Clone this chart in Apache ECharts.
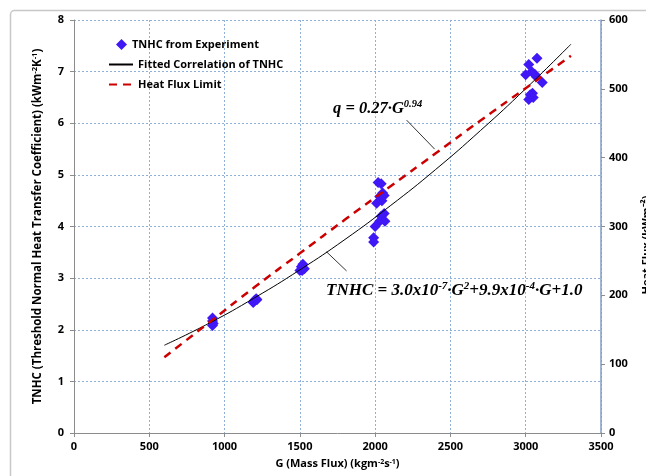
<!DOCTYPE html>
<html><head><meta charset="utf-8">
<script src="https://cdn.jsdelivr.net/npm/echarts@6/dist/echarts.min.js"></script>
<style>html,body{margin:0;padding:0;background:#fff}#c{width:646px;height:476px}</style>
</head><body><div id="c"></div>
<script>
// Experimental TNHC points [G, TNHC]
const expG = [920,920,925,920, 1190,1200,1210,1215,1195, 1500,1510,1520,1530,1515,
  2020,2040,2050,2030,2060,2010,2045,2060,2040,2030,2065,2000,1990,1990,
  3020,3075,3000,3040,3060,3070,3110,3030,3020,3050,3045];
const expTNHC = [2.23,2.17,2.12,2.08, 2.53,2.57,2.60,2.58,2.55, 3.15,3.22,3.27,3.18,3.15,
  4.85,4.83,4.65,4.58,4.60,4.45,4.50,4.25,4.20,4.10,4.10,4.00,3.78,3.70,
  7.14,7.26,6.94,7.00,6.95,6.90,6.79,6.55,6.46,6.50,6.58];
// Fitted correlation curve
const fitG = [600,900,1200,1500,1800,2100,2400,2700,3000,3300];
const fitTNHC = [1.70,2.13,2.62,3.16,3.75,4.40,5.10,5.86,6.67,7.53];
// Heat flux limit (right axis, kW/m2)
const limG = [600,900,1200,1500,1800,2100,2400,2700,3000,3300];
const limQ = [110,161,212,261,310,358,406,454,501,548];
// Axis ticks
const xTicks = [0,500,1000,1500,2000,2500,3000,3500];
const yLeftTicks = [0,1,2,3,4,5,6,7,8];
const yRightTicks = [0,100,200,300,400,500,600];
// Annotation arrows [from, to] in data coords
const qArrow = [[2209,6.06],[2395,5.50]];
const tArrow = [[1810,3.14],[1677,3.51]];

const F = 'Open Sans';
const gridLine = {show:true, lineStyle:{color:'#8fb0d8', type:[2,2], width:1}};
const chart = echarts.init(document.getElementById('c'), null, {renderer:'canvas'});
const arrowPath = 'path://M0,0 L6,14 M0,0 L-6,14';
const legText = {fontFamily:F, fontWeight:'bold', fontSize:11, color:'#000'};
chart.setOption({
  animation:false,
  backgroundColor:'#fff',
  grid:{left:74, right:45, top:20, bottom:43, show:false},
  legend:[{
    orient:'vertical', left:111, top:34, itemWidth:11, itemHeight:11,
    textStyle:legText, data:[{name:'TNHC from Experiment', icon:'diamond'}]
  },{
    orient:'vertical', left:103, top:54, itemGap:9, itemWidth:24, itemHeight:11,
    textStyle:legText,
    data:[{name:'Fitted Correlation of TNHC', itemStyle:{opacity:0}},
          {name:'Heat Flux Limit', itemStyle:{opacity:0}}]
  }],
  xAxis:{
    type:'value', min:xTicks[0], max:xTicks[xTicks.length-1], interval:500,
    name:'{b|G (Mass Flux) (kgm}{s|-2}{b|s}{s|-1}{b|)}', nameLocation:'middle', nameGap:25,
    nameTextStyle:{rich:{b:{fontFamily:F,fontWeight:'bold',fontSize:11,color:'#000'},
      s:{fontFamily:F,fontWeight:'bold',fontSize:7,color:'#000',padding:[0,0,5,0]}}},
    axisLine:{show:true, lineStyle:{color:'#8c8c8c'}},
    axisTick:{show:true, length:4, lineStyle:{color:'#8c8c8c'}},
    axisLabel:{fontFamily:F, fontWeight:'bold', fontSize:11, color:'#000', margin:8, formatter:v=>String(v)},
    splitLine:gridLine
  },
  yAxis:[{
    type:'value', min:yLeftTicks[0], max:yLeftTicks[yLeftTicks.length-1], interval:1,
    name:'{b|TNHC (Threshold Normal Heat Transfer Coefficient) (kWm}{s|-2}{b|K}{s|-1}{b|)}',
    nameLocation:'middle', nameGap:30, nameRotate:90,
    nameTextStyle:{rich:{b:{fontFamily:F,fontWeight:'bold',fontSize:11.5,color:'#000'},
      s:{fontFamily:F,fontWeight:'bold',fontSize:7.5,color:'#000',padding:[0,0,5,0]}}},
    axisLine:{show:true, lineStyle:{color:'#8c8c8c'}},
    axisTick:{show:true, length:4, lineStyle:{color:'#8c8c8c'}},
    axisLabel:{fontFamily:F, fontWeight:'bold', fontSize:11, color:'#000', margin:10, formatter:v=>String(v)},
    splitLine:gridLine
  },{
    type:'value', position:'right', min:yRightTicks[0], max:yRightTicks[yRightTicks.length-1], interval:100,
    axisLine:{show:true, lineStyle:{color:'#7f9cc4', width:1.5}},
    axisTick:{show:true, length:4, lineStyle:{color:'#8c8c8c'}},
    axisLabel:{fontFamily:F, fontWeight:'bold', fontSize:11, color:'#000', margin:8, formatter:v=>String(v)},
    splitLine:{show:false}
  }],
  series:[
    {name:'TNHC from Experiment', type:'scatter', symbol:'diamond', symbolSize:11,
     itemStyle:{color:'#4018f5', opacity:1}, data:expG.map((g,i)=>[g,expTNHC[i]]), z:3},
    {name:'Fitted Correlation of TNHC', type:'line', smooth:true, symbol:'none', showSymbol:false,
     lineStyle:{color:'#000', width:1}, itemStyle:{color:'#000'},
     data:fitG.map((g,i)=>[g,fitTNHC[i]]), z:4,
     markLine:{silent:true, symbol:['none', arrowPath], symbolSize:[7,9], label:{show:false},
       lineStyle:{color:'#000', width:0.8, type:'solid'},
       data:[[{coord:qArrow[0]},{coord:qArrow[1]}],[{coord:tArrow[0]},{coord:tArrow[1]}]]}},
    {name:'Heat Flux Limit', type:'line', yAxisIndex:1, smooth:true, symbol:'none', showSymbol:false,
     lineStyle:{color:'#cc0000', width:2.5, type:[8,6]}, itemStyle:{color:'#cc0000'},
     data:limG.map((g,i)=>[g,limQ[i]]), z:5}
  ],
  graphic:[
    {type:'rect', shape:{x:10.5, y:10.5, width:700, height:600, r:4}, silent:true, z:-1,
     style:{fill:'none', stroke:'#c8c8c8', lineWidth:1.5}},
    {type:'text', left:333, top:99, z:10, style:{
      text:'{m|q = 0.27·G}{s|0.94}',
      rich:{m:{fontFamily:'Liberation Serif',fontStyle:'italic',fontWeight:'bold',fontSize:16.5,color:'#000'},
            s:{fontFamily:'Liberation Serif',fontStyle:'italic',fontWeight:'bold',fontSize:10.5,color:'#000',padding:[0,0,8,0]}}}},
    {type:'text', left:326, top:281, z:10, style:{
      text:'{m|TNHC = 3.0x10}{s|-7}{m|·G}{s|2}{m|+9.9x10}{s|-4}{m|·G+1.0}',
      rich:{m:{fontFamily:'Liberation Serif',fontStyle:'italic',fontWeight:'bold',fontSize:17,color:'#000'},
            s:{fontFamily:'Liberation Serif',fontStyle:'italic',fontWeight:'bold',fontSize:11,color:'#000',padding:[0,0,8,0]}}}},
    {type:'text', x:647, y:245, rotation:Math.PI/2, z:10, style:{
      text:'Heat Flux (kWm⁻²)', align:'center', verticalAlign:'middle',
      fontFamily:F, fontWeight:'bold', fontSize:11, fill:'#000'}}
  ]
});
</script></body></html>
